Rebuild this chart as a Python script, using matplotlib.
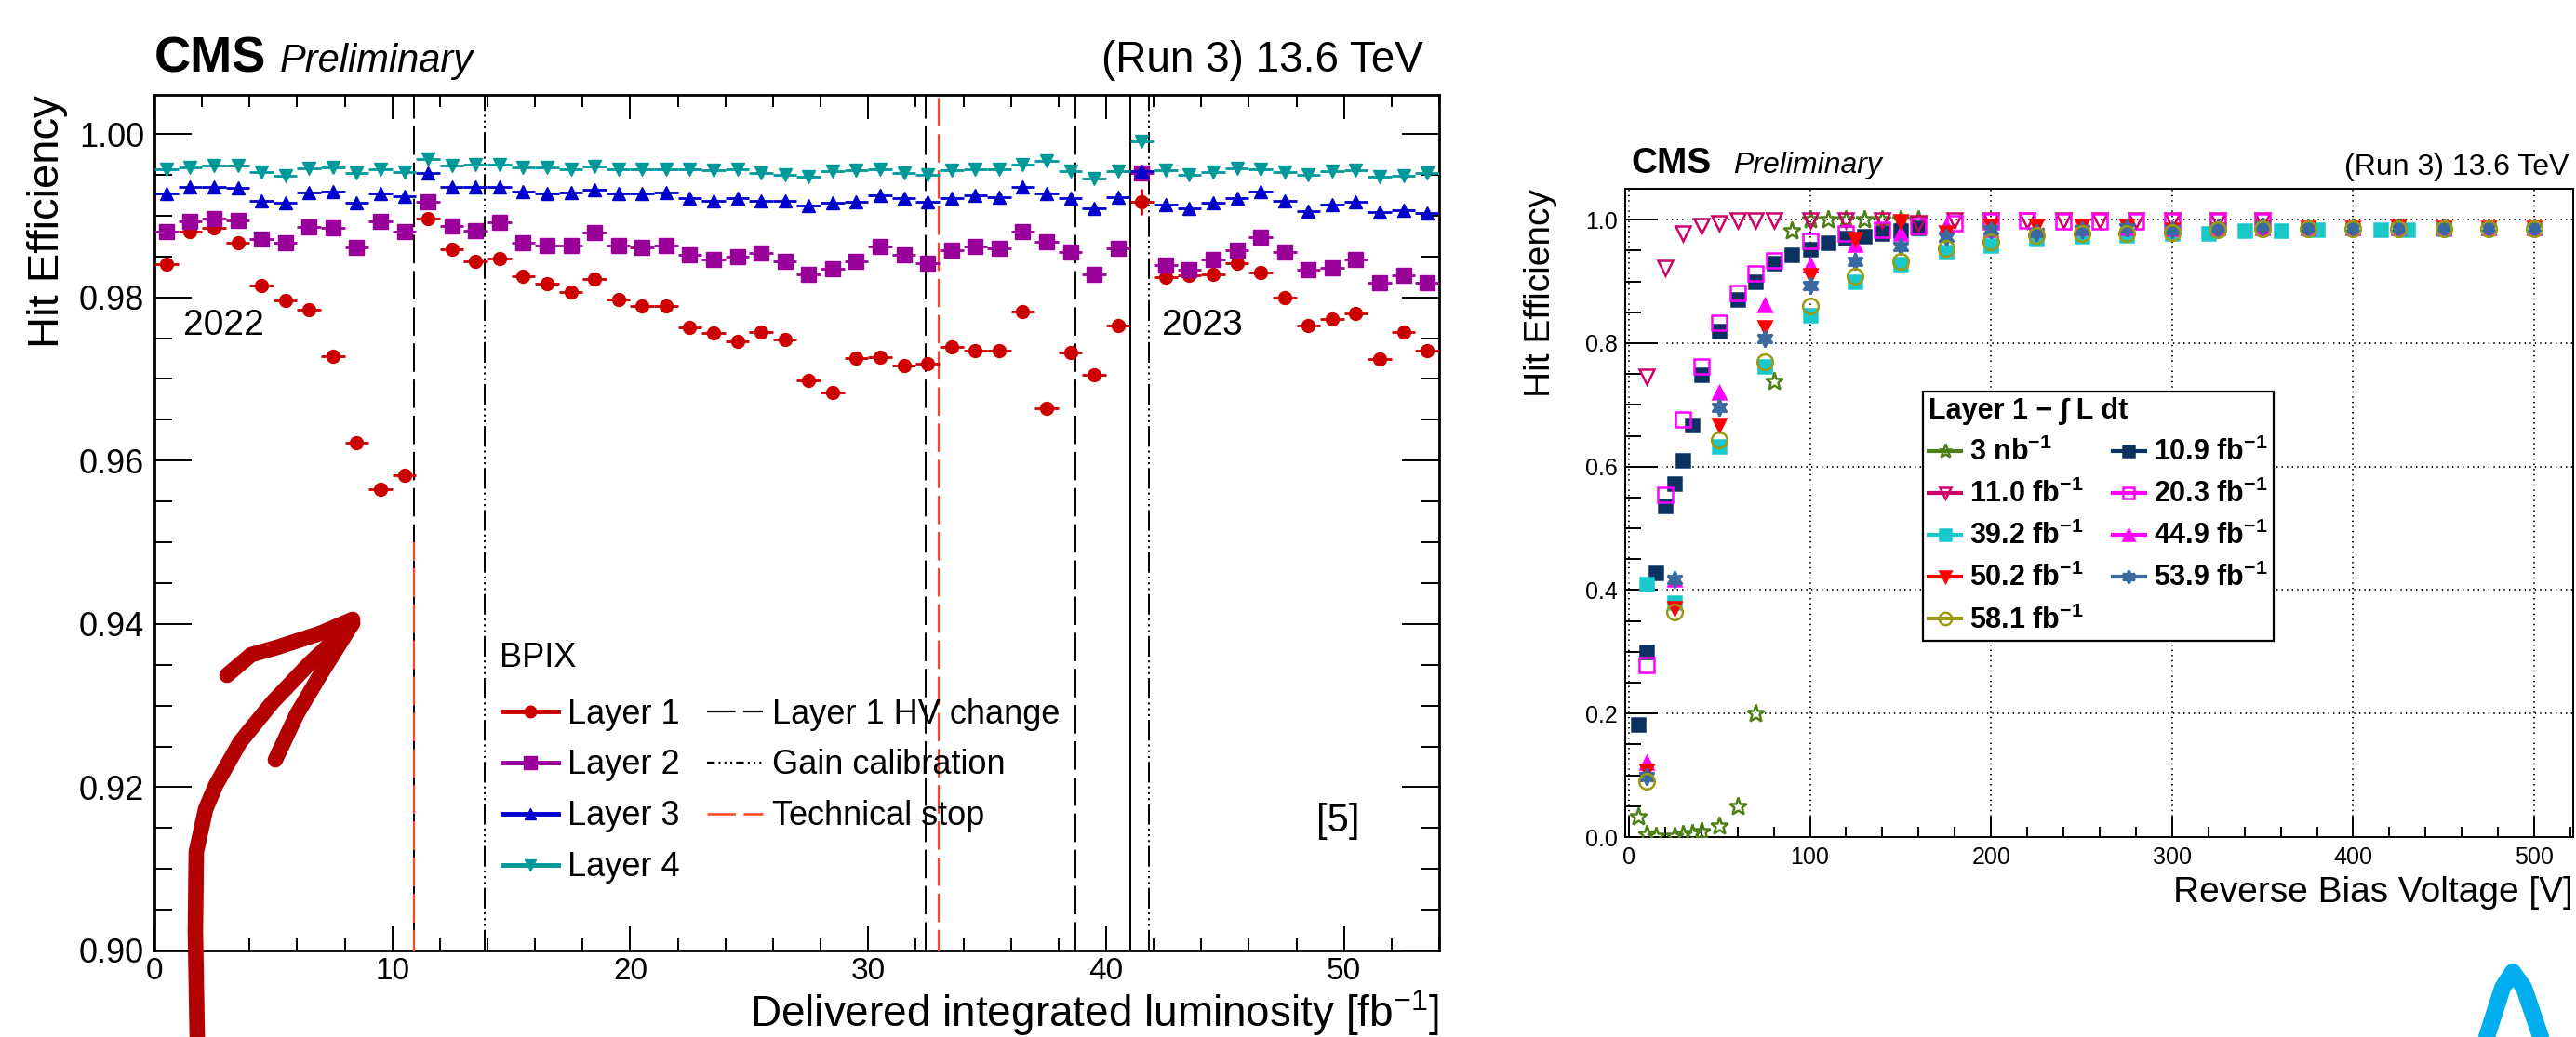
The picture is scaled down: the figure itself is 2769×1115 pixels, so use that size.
import numpy as np
import matplotlib
matplotlib.use("Agg")
import matplotlib.pyplot as plt
from matplotlib.lines import Line2D
from matplotlib.ticker import MultipleLocator, FormatStrFormatter

plt.rcParams['font.family'] = ['Liberation Sans', 'DejaVu Sans']
plt.rcParams['mathtext.fontset'] = 'custom'
plt.rcParams['mathtext.rm'] = 'Liberation Sans'
plt.rcParams['mathtext.it'] = 'Liberation Sans:italic'
plt.rcParams['mathtext.bf'] = 'Liberation Sans:bold'
plt.rcParams['lines.scale_dashes'] = False

# ---------------- left panel: efficiency vs delivered luminosity ----------------
lumi = [0.5, 1.5, 2.5, 3.5, 4.5, 5.5, 6.5, 7.5, 8.5, 9.5,
        10.5, 11.5, 12.5, 13.5, 14.5, 15.5, 16.5, 17.5, 18.5, 19.5,
        20.5, 21.5, 22.5, 23.5, 24.5, 25.5, 26.5, 27.5, 28.5, 29.5,
        30.5, 31.5, 32.5, 33.5, 34.5, 35.5, 36.5, 37.5, 38.5, 39.5,
        40.5, 41.5, 42.5, 43.5, 44.5, 45.5, 46.5, 47.5, 48.5, 49.5,
        50.5, 51.5, 52.5, 53.5]

layer1 = [0.9841, 0.9880, 0.9885, 0.9867, 0.9815, 0.9796, 0.9785, 0.9728, 0.9622, 0.9565,
          0.9582, 0.9896, 0.9859, 0.9844, 0.9848, 0.9826, 0.9817, 0.9806, 0.9822, 0.9797,
          0.9789, 0.9789, 0.9763, 0.9756, 0.9746, 0.9758, 0.9748, 0.9698, 0.9684, 0.9726,
          0.9727, 0.9717, 0.9719, 0.9739, 0.9735, 0.9735, 0.9783, 0.9664, 0.9733, 0.9705,
          0.9766, 0.9917, 0.9825, 0.9827, 0.9828, 0.9842, 0.9830, 0.9800, 0.9766, 0.9774,
          0.9780, 0.9724, 0.9758, 0.9735]
layer2 = [0.9881, 0.9893, 0.9897, 0.9894, 0.9871, 0.9867, 0.9886, 0.9885, 0.9861, 0.9893,
          0.9881, 0.9917, 0.9887, 0.9882, 0.9892, 0.9867, 0.9863, 0.9863, 0.9879, 0.9863,
          0.9861, 0.9863, 0.9852, 0.9846, 0.9850, 0.9854, 0.9844, 0.9828, 0.9835, 0.9844,
          0.9862, 0.9852, 0.9842, 0.9858, 0.9862, 0.9860, 0.9881, 0.9868, 0.9855, 0.9828,
          0.9860, 0.9952, 0.9840, 0.9834, 0.9846, 0.9858, 0.9874, 0.9855, 0.9834, 0.9836,
          0.9846, 0.9818, 0.9827, 0.9818]
layer3 = [0.9927, 0.9935, 0.9935, 0.9934, 0.9918, 0.9916, 0.9928, 0.9929, 0.9916, 0.9927,
          0.9924, 0.9952, 0.9935, 0.9935, 0.9935, 0.9929, 0.9927, 0.9928, 0.9932, 0.9927,
          0.9927, 0.9928, 0.9921, 0.9918, 0.9921, 0.9918, 0.9918, 0.9913, 0.9916, 0.9917,
          0.9925, 0.9921, 0.9917, 0.9921, 0.9925, 0.9923, 0.9935, 0.9927, 0.9921, 0.9909,
          0.9923, 0.9955, 0.9914, 0.9909, 0.9916, 0.9921, 0.9929, 0.9918, 0.9906, 0.9914,
          0.9917, 0.9905, 0.9907, 0.9903]
layer4 = [0.9957, 0.9959, 0.9961, 0.9961, 0.9953, 0.9949, 0.9958, 0.9959, 0.9952, 0.9957,
          0.9954, 0.9969, 0.9961, 0.9963, 0.9962, 0.9959, 0.9959, 0.9957, 0.9960, 0.9957,
          0.9957, 0.9957, 0.9957, 0.9956, 0.9957, 0.9952, 0.9950, 0.9948, 0.9955, 0.9956,
          0.9957, 0.9952, 0.9950, 0.9956, 0.9957, 0.9957, 0.9963, 0.9967, 0.9955, 0.9946,
          0.9955, 0.9991, 0.9956, 0.9950, 0.9954, 0.9958, 0.9957, 0.9953, 0.9950, 0.9955,
          0.9956, 0.9948, 0.9949, 0.9952]
# typical stat. uncertainty per layer, larger for the short 2023 first fill
err_typ = [0.0004, 0.0003, 0.0002, 0.0002]
err_short_bin = [0.0016, 0.0008, 0.0008, 0.0005]
short_bin = 41

hv_change = [10.9, 32.4, 38.7]
gain_calib = [13.9, 41.8]
tech_stop = [10.9, 32.95]
tech_stop_ymax = [0.95, 1.0048]
year_change = [41.0]

# ---------------- right panel: efficiency vs bias voltage ----------------
v_3nb = [5, 10, 15, 25, 30, 35, 40, 50, 60, 70, 80, 90, 100, 110, 120, 130, 140, 150, 160]
e_3nb = [0.033, 0.005, 0.001, 0.001, 0.004, 0.006, 0.009, 0.018, 0.050, 0.201, 0.738, 0.982,
         1.0, 1.0, 1.0, 1.0, 1.0, 1.0, 1.0]
v_109 = [5, 10, 15, 20, 25, 30, 35, 40, 50, 60, 70, 80, 90, 100, 110, 120, 130, 140, 150, 160]
e_109 = [0.183, 0.300, 0.428, 0.536, 0.572, 0.610, 0.667, 0.748, 0.819, 0.871, 0.899, 0.930,
         0.943, 0.952, 0.962, 0.970, 0.973, 0.978, 0.982, 0.986]
v_110 = [10, 20, 30, 40, 50, 60, 70, 80, 100, 120, 140, 160, 180, 200, 220, 240, 260, 280, 300,
         325, 350]
e_110 = [0.746, 0.922, 0.977, 0.990, 0.995, 0.999, 0.999, 0.999, 0.999, 0.999, 0.999, 0.995,
         0.999, 0.999, 0.999, 0.999, 0.999, 0.999, 0.999, 0.999, 0.999]
v_203 = [10, 20, 30, 40, 50, 60, 70, 80, 100, 120, 140, 160, 180, 200, 220, 240, 260, 280, 300,
         325, 350]
e_203 = [0.279, 0.555, 0.677, 0.763, 0.833, 0.881, 0.913, 0.934, 0.966, 0.977, 0.984, 0.989,
         0.995, 0.997, 0.999, 0.998, 0.997, 0.997, 0.998, 0.998, 0.998]
v_392 = [10, 25, 50, 75, 100, 125, 150, 175, 200, 225, 250, 275, 300, 320, 340, 360, 380,
         415, 430, 450]
e_392 = [0.410, 0.379, 0.633, 0.763, 0.845, 0.899, 0.928, 0.947, 0.958, 0.968, 0.973, 0.974,
         0.977, 0.978, 0.982, 0.982, 0.984, 0.984, 0.984, 0.985]
v_449 = [10, 25, 50, 75, 100, 125, 150, 175, 200, 225, 250, 275, 300, 325, 350, 375, 400, 425,
         450, 475, 500]
e_449 = [0.121, 0.418, 0.720, 0.861, 0.927, 0.959, 0.977, 0.989, 0.984, 0.986, 0.986, 0.986,
         0.985, 0.986, 0.986, 0.986, 0.986, 0.986, 0.986, 0.986, 0.986]
v_502 = [10, 25, 50, 75, 100, 125, 150, 175, 200, 225, 250, 275, 300, 325, 350, 375, 400, 425,
         450, 475, 500]
e_502 = [0.107, 0.370, 0.668, 0.826, 0.910, 0.969, 0.998, 0.979, 0.989, 0.989, 0.989, 0.989,
         0.984, 0.984, 0.986, 0.986, 0.986, 0.988, 0.986, 0.986, 0.986]
v_539 = [10, 25, 50, 75, 100, 125, 150, 175, 200, 225, 250, 275, 300, 325, 350, 375, 400, 425,
         450, 475, 500]
e_539 = [0.098, 0.418, 0.696, 0.807, 0.894, 0.932, 0.956, 0.972, 0.984, 0.979, 0.984, 0.987,
         0.984, 0.986, 0.989, 0.986, 0.986, 0.986, 0.986, 0.986, 0.986]
v_581 = [10, 25, 50, 75, 100, 125, 150, 175, 200, 225, 250, 275, 300, 325, 350, 375, 400, 425,
         450, 475, 500]
e_581 = [0.090, 0.364, 0.643, 0.770, 0.860, 0.909, 0.932, 0.954, 0.964, 0.974, 0.977, 0.978,
         0.979, 0.983, 0.985, 0.985, 0.985, 0.985, 0.985, 0.985, 0.985]

# hand-drawn highlight marks on the slide (figure pixels)
red_arrow_shaft = [(212, 1115), (210, 1001), (211, 916), (221, 870), (232, 844), (258, 798),
                   (293, 755), (333, 713), (379, 670)]
red_arrow_top = [(244, 726), (270, 704), (298, 696), (344, 681), (379, 666)]
red_arrow_low = [(379, 670), (344, 726), (319, 768), (296, 817)]
blue_mark = [(2673, 1115), (2690, 1062), (2701, 1045), (2713, 1062), (2731, 1115)]

W, H = 2769, 1115
fig = plt.figure(figsize=(W / 100, H / 100), dpi=100)

# ================= left panel =================
ax1 = fig.add_axes([166 / W, 1 - 1022 / H, (1547 - 166) / W, (1022 - 102) / H])
ax1.set_xlim(0, 54)
ax1.set_ylim(0.9, 1.0048)

layer_style = [
    ("Layer 1", layer1, "#CC0000", "o", 10),
    ("Layer 2", layer2, "#990099", "s", 11),
    ("Layer 3", layer3, "#0000CC", "^", 10),
    ("Layer 4", layer4, "#009999", "v", 10),
]
handles = []
for i, (lab, vals, col, mk, ms) in enumerate(layer_style):
    yerr = np.full(len(vals), err_typ[i])
    yerr[short_bin] = err_short_bin[i]
    ax1.errorbar(lumi, vals, xerr=0.5, yerr=yerr, fmt=mk, color=col, ms=ms,
                 elinewidth=2, capsize=0, zorder=5 + i)
    handles.append(Line2D([], [], color=col, marker=mk, ms=ms * 0.9, lw=3.5))

for x in hv_change:
    ax1.axvline(x, color="k", lw=1.4, ls=(0, (22, 6)), zorder=2)
for x in gain_calib:
    ax1.axvline(x, color="k", lw=1.4, ls=(0, (16, 3, 1.5, 3, 1.5, 3, 1.5, 3)), zorder=2)
for x, ytop in zip(tech_stop, tech_stop_ymax):
    ax1.plot([x, x], [0.9, ytop], color="#FF4422", lw=1.6, ls=(6, (22, 6)), zorder=3)
for x in year_change:
    ax1.axvline(x, color="k", lw=1.4, zorder=2)

handles += [
    Line2D([], [], color="k", lw=1.6, ls=(0, (22, 6))),
    Line2D([], [], color="k", lw=1.6, ls=(0, (6, 3, 1.5, 3, 1.5, 3, 1.5, 3))),
    Line2D([], [], color="#FF4422", lw=1.8, ls=(0, (22, 6))),
]
labels = ["Layer 1", "Layer 2", "Layer 3", "Layer 4",
          "Layer 1 HV change", "Gain calibration", "Technical stop"]
ax1.text(0.2686, 0.3315, "BPIX", transform=ax1.transAxes, fontsize=26, va="baseline", ha="left")
leg = ax1.legend(handles, labels, ncol=2, loc="upper left", bbox_to_anchor=(0.2708, 0.295),
                 frameon=False, fontsize=26, handlelength=1.65, handletextpad=0.3,
                 columnspacing=0.8, labelspacing=0.55, borderpad=0, borderaxespad=0)

ax1.text(1.2, 0.9766, "2022", fontsize=28, va="center", ha="left")
ax1.text(42.35, 0.9766, "2023", fontsize=28, va="center", ha="left")
ax1.text(48.85, 0.9158, "[5]", fontsize=30, va="center", ha="left")

ax1.xaxis.set_major_locator(MultipleLocator(10))
ax1.xaxis.set_minor_locator(MultipleLocator(2))
ax1.yaxis.set_major_locator(MultipleLocator(0.02))
ax1.yaxis.set_minor_locator(MultipleLocator(0.005))
ax1.yaxis.set_major_formatter(FormatStrFormatter("%.2f"))
ax1.tick_params(which="both", direction="in", top=True, right=True, width=1.4)
ax1.tick_params(axis="y", which="major", length=29, labelsize=26, pad=8)
ax1.tick_params(axis="y", which="minor", length=14)
ax1.tick_params(axis="x", which="major", length=19, labelsize=24, pad=5)
ax1.tick_params(axis="x", which="minor", length=9.5)
for s in ax1.spines.values():
    s.set_linewidth(2)

ax1.set_xlabel(r"Delivered integrated luminosity [fb$^{-1}$]", fontsize=33, ha="right",
               va="baseline")
ax1.xaxis.set_label_coords(1.0, -0.0895)
ax1.set_ylabel("Hit Efficiency", fontsize=34, ha="right", va="center")
ax1.yaxis.label.set_rotation_mode("anchor")
ax1.yaxis.set_label_coords(-0.083, 1.0)

fig.text(166 / W, 1 - 77 / H, "CMS", fontsize=39, fontweight="bold", va="baseline")
fig.text(301 / W, 1 - 77 / H, "Preliminary", fontsize=30, style="italic", va="baseline")
fig.text(1530 / W, 1 - 77 / H, "(Run 3) 13.6 TeV", fontsize=33, ha="right", va="baseline")

# ================= right panel =================
ax2 = fig.add_axes([1747 / W, 1 - 900 / H, (2766 - 1747) / W, (900 - 203) / H])
ax2.set_xlim(-2, 521.5)
ax2.set_ylim(0, 1.05)

series = [
    (r"3 nb$^{\mathbf{-1}}$", v_3nb, e_3nb, "*", "#4D7F17", False, 14),
    (r"10.9 fb$^{\mathbf{-1}}$", v_109, e_109, "s", "#0B3160", True, 10),
    (r"11.0 fb$^{\mathbf{-1}}$", v_110, e_110, "v", "#CC0066", False, 11),
    (r"20.3 fb$^{\mathbf{-1}}$", v_203, e_203, "s", "#FF00FF", False, 11),
    (r"39.2 fb$^{\mathbf{-1}}$", v_392, e_392, "s", "#19C9C9", True, 10),
    (r"44.9 fb$^{\mathbf{-1}}$", v_449, e_449, "^", "#FF00FF", True, 10),
    (r"50.2 fb$^{\mathbf{-1}}$", v_502, e_502, "v", "#FF0000", True, 10),
    (r"53.9 fb$^{\mathbf{-1}}$", v_539, e_539, (6, 1, 0), "#3B6AA0", True, 13),
    (r"58.1 fb$^{\mathbf{-1}}$", v_581, e_581, "o", "#9C9A12", False, 12),
]
hmap = {}
for lab, vv, ee, mk, col, filled, ms in series:
    mfc = col if filled else "none"
    ax2.plot(vv, ee, ls="none", marker=mk, ms=ms, mfc=mfc, mec=col, mew=1.8, zorder=4)
    hmap[lab] = Line2D([], [], color=col, lw=3, marker=mk, ms=ms * 0.8, mfc=mfc, mec=col, mew=1.8)

order = [0, 2, 4, 6, 8, 1, 3, 5, 7]
leg2 = ax2.legend([hmap[series[i][0]] for i in order], [series[i][0] for i in order],
                  ncol=2, loc="upper left", bbox_to_anchor=(0.314, 0.687),
                  prop={"weight": "bold", "size": 22},
                  title="Layer 1 \u2212 \u222b L dt",
                  title_fontproperties={"weight": "bold", "size": 22},
                  alignment="left", fancybox=False, edgecolor="k", framealpha=1,
                  handlelength=1.15, handletextpad=0.3, columnspacing=1.0,
                  labelspacing=0.45, borderpad=0.2, borderaxespad=0)
leg2.get_frame().set_linewidth(1.6)

ax2.xaxis.set_major_locator(MultipleLocator(100))
ax2.xaxis.set_minor_locator(MultipleLocator(20))
ax2.yaxis.set_major_locator(MultipleLocator(0.2))
ax2.yaxis.set_minor_locator(MultipleLocator(0.05))
ax2.yaxis.set_major_formatter(FormatStrFormatter("%.1f"))
ax2.grid(True, which="major", color="k", ls=(0, (1, 3)), lw=1.3)
ax2.tick_params(which="both", direction="in", width=1.4)
ax2.tick_params(axis="y", which="major", length=25, labelsize=18, pad=6)
ax2.tick_params(axis="y", which="minor", length=12)
ax2.tick_params(axis="x", which="major", length=16, labelsize=18, pad=7)
ax2.tick_params(axis="x", which="minor", length=8)
for s in ax2.spines.values():
    s.set_linewidth(1.4)

ax2.set_xlabel("Reverse Bias Voltage [V]", fontsize=28, ha="right", va="center")
ax2.xaxis.set_label_coords(1.0, -0.086)
ax2.set_ylabel("Hit Efficiency", fontsize=28, ha="right", va="center")
ax2.yaxis.label.set_rotation_mode("anchor")
ax2.yaxis.set_label_coords(-0.089, 1.0)

fig.text(1753 / W, 1 - 186 / H, "CMS", fontsize=28, fontweight="bold", va="baseline")
fig.text(1863 / W, 1 - 186 / H, "Preliminary", fontsize=23, style="italic", va="baseline")
fig.text(2761 / W, 1 - 188 / H, "(Run 3) 13.6 TeV", fontsize=23, ha="right", va="baseline")

# hand-drawn highlight marks
for path, col, lw in [(red_arrow_shaft, "#B30000", 12), (red_arrow_top, "#B30000", 12),
                      (red_arrow_low, "#B30000", 12), (blue_mark, "#00AEEF", 13)]:
    xs = [p[0] / W for p in path]
    ys = [1 - p[1] / H for p in path]
    fig.add_artist(Line2D(xs, ys, transform=fig.transFigure, color=col, lw=lw,
                          solid_capstyle="round", solid_joinstyle="round", zorder=10))

fig.savefig("out.png", dpi=100)
